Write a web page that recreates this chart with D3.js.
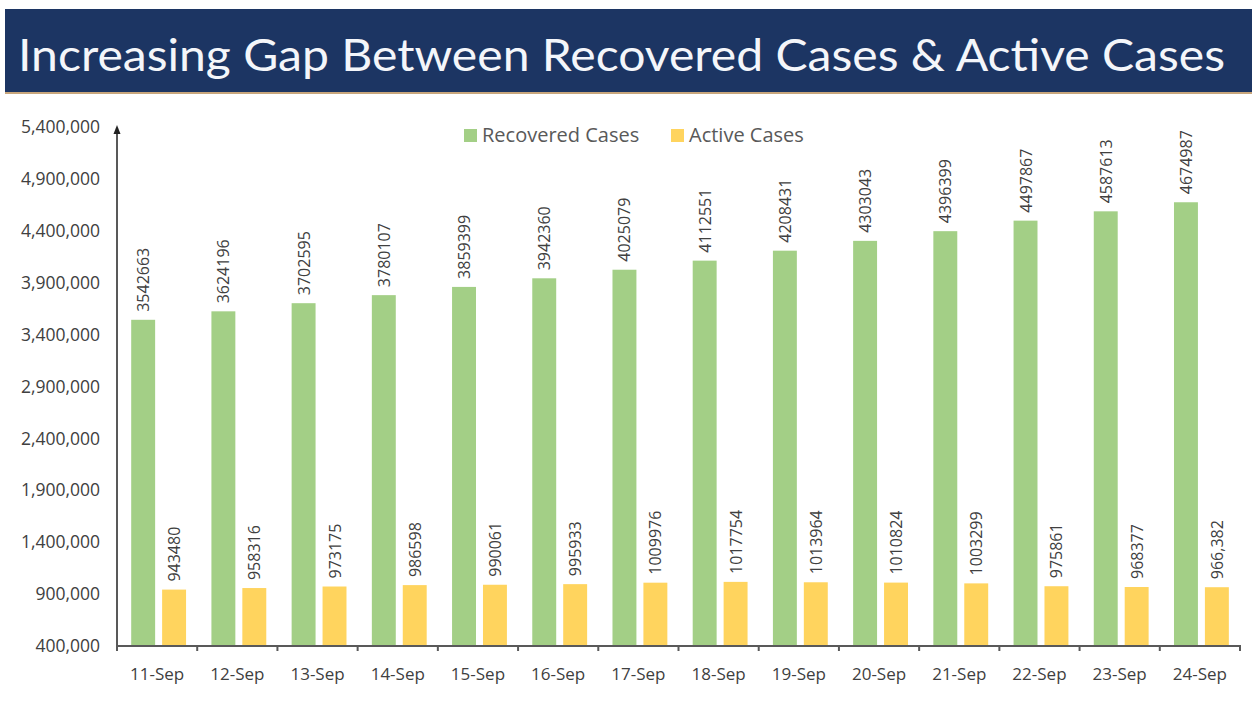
<!DOCTYPE html>
<html>
<head>
<meta charset="utf-8">
<script src="https://cdn.jsdelivr.net/npm/d3@7"></script>
<style>
  body { margin: 0; background: #fff; }
  svg { display: block; }
</style>
</head>
<body>
<div id="chart"></div>
<script>
// data
var dates = ['11-Sep', '12-Sep', '13-Sep', '14-Sep', '15-Sep', '16-Sep', '17-Sep',
  '18-Sep', '19-Sep', '20-Sep', '21-Sep', '22-Sep', '23-Sep', '24-Sep'];
var recovered = [3542663, 3624196, 3702595, 3780107, 3859399, 3942360, 4025079,
  4112551, 4208431, 4303043, 4396399, 4497867, 4587613, 4674987];
var active = [943480, 958316, 973175, 986598, 990061, 995933, 1009976,
  1017754, 1013964, 1010824, 1003299, 975861, 968377, 966382];
var activeLabels = ['943480', '958316', '973175', '986598', '990061', '995933', '1009976',
  '1017754', '1013964', '1010824', '1003299', '975861', '968377', '966,382'];
var yTicks = [400000, 900000, 1400000, 1900000, 2400000, 2900000, 3400000,
  3900000, 4400000, 4900000, 5400000];
var seriesNames = ['Recovered Cases', 'Active Cases'];

var width = 1252, height = 705;
var green = '#a3cf86', yellow = '#ffd45e';
var axisCol = '#595959', textCol = '#404040';

var svg = d3.select('#chart').append('svg')
  .attr('width', width).attr('height', height);

///////////////////////////// title bar /////////////////////////////
svg.append('rect')
  .attr('x', 5).attr('y', 9)
  .attr('width', width - 5).attr('height', 83)
  .attr('fill', '#1c3563');
svg.append('rect')
  .attr('x', 5).attr('y', 92)
  .attr('width', width - 5).attr('height', 2)
  .attr('fill', '#c8a67c');
svg.append('text')
  .attr('x', 18).attr('y', 71)
  .attr('textLength', 1207)
  .attr('lengthAdjust', 'spacingAndGlyphs')
  .style('font-family', 'Lato, "Open Sans", sans-serif')
  .style('font-size', '44px')
  .attr('fill', '#f4f6fa')
  .text('Increasing Gap Between Recovered Cases & Active Cases');

///////////////////////////// scales /////////////////////////////
var x0 = d3.scaleBand().domain(dates).range([117, 1240]).padding(0);
var x1 = d3.scaleBand().domain(seriesNames).range([0, x0.bandwidth()])
  .paddingInner(0.226).paddingOuter(0.41).align(0.56);
var y = d3.scaleLinear().domain([400000, 5400000]).range([646, 127]);

var rows = dates.map(function(d, i) {
  return {date: d, vals: [
    {key: seriesNames[0], value: recovered[i], label: String(recovered[i]), fill: green},
    {key: seriesNames[1], value: active[i], label: activeLabels[i], fill: yellow}
  ]};
});

///////////////////////////// bars /////////////////////////////
var groups = svg.selectAll('g.day')
  .data(rows).enter().append('g')
  .attr('class', 'day')
  .attr('transform', function(d) { return 'translate(' + x0(d.date) + ',0)'; });

groups.selectAll('rect')
  .data(function(d) { return d.vals; })
  .enter().append('rect')
  .attr('x', function(d) { return x1(d.key); })
  .attr('width', x1.bandwidth())
  .attr('y', function(d) { return y(d.value); })
  .attr('height', function(d) { return y(400000) - y(d.value); })
  .attr('fill', function(d) { return d.fill; });

groups.selectAll('text.val')
  .data(function(d) { return d.vals; })
  .enter().append('text')
  .attr('class', 'val')
  .attr('transform', function(d) {
    var cx = x1(d.key) + x1.bandwidth() / 2;
    return 'translate(' + [cx + 6, y(d.value) - 8] + ') rotate(-90)';
  })
  .style('font-family', '"Open Sans", sans-serif')
  .style('font-size', '16px')
  .attr('fill', textCol)
  .text(function(d) { return d.label; });

///////////////////////////// axes /////////////////////////////
var yAxis = svg.append('g')
  .attr('transform', 'translate(117,0)')
  .call(d3.axisLeft(y).tickValues(yTicks).tickSize(0).tickPadding(17)
    .tickFormat(d3.format(',')));
yAxis.select('.domain').remove();
yAxis.selectAll('text')
  .style('font-family', '"Open Sans", sans-serif')
  .style('font-size', '17.5px')
  .attr('fill', textCol);

svg.append('line')
  .attr('x1', 117).attr('x2', 117)
  .attr('y1', 646).attr('y2', 130)
  .attr('stroke', axisCol).attr('stroke-width', 2);
svg.append('path')
  .attr('d', 'M113.5,134 L117,125 L120.5,134 Z')
  .attr('fill', '#222');

var xAxis = svg.append('g')
  .attr('transform', 'translate(0,646)');
xAxis.append('line')
  .attr('x1', 116).attr('x2', 1241)
  .attr('stroke', axisCol).attr('stroke-width', 2);
xAxis.selectAll('line.tick')
  .data(dates.concat(['end']))
  .enter().append('line')
  .attr('class', 'tick')
  .attr('x1', function(d, i) { return x0.range()[0] + i * x0.step(); })
  .attr('x2', function(d, i) { return x0.range()[0] + i * x0.step(); })
  .attr('y1', 0).attr('y2', 5)
  .attr('stroke', axisCol).attr('stroke-width', 2);
xAxis.selectAll('text')
  .data(dates).enter().append('text')
  .attr('x', function(d) { return x0(d) + x0.bandwidth() / 2; })
  .attr('y', 34)
  .attr('text-anchor', 'middle')
  .style('font-family', '"Open Sans", sans-serif')
  .style('font-size', '17px')
  .attr('fill', textCol)
  .text(function(d) { return d; });

///////////////////////////// legend /////////////////////////////
var legend = svg.append('g').attr('class', 'legend');
var legendX = [464, 671];
seriesNames.forEach(function(name, i) {
  legend.append('rect')
    .attr('x', legendX[i]).attr('y', 129)
    .attr('width', 13).attr('height', 13)
    .attr('fill', i === 0 ? green : yellow);
  legend.append('text')
    .attr('x', legendX[i] + 18).attr('y', 142)
    .style('font-family', '"Open Sans", sans-serif')
    .style('font-size', '20px')
    .attr('fill', '#595959')
    .text(name);
});
</script>
</body>
</html>
